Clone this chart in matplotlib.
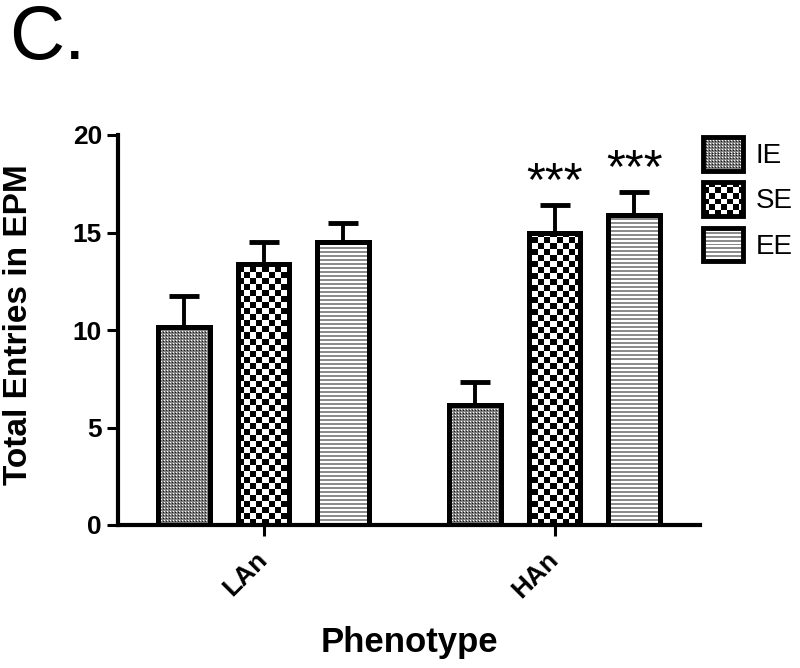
import numpy as np
import matplotlib
matplotlib.use('Agg')
from matplotlib import pyplot as plt
from matplotlib.patches import Rectangle
from matplotlib.image import BboxImage
from matplotlib.transforms import Bbox, TransformedBbox, ScaledTranslation
from matplotlib.colors import Normalize
from matplotlib.legend_handler import HandlerBase

plt.rcParams['font.family'] = ['Liberation Sans', 'DejaVu Sans']

# data
phenotypes = ['LAn', 'HAn']
groups = ['IE', 'SE', 'EE']
means = {
    'IE': [10.15, 6.15],
    'SE': [13.4, 15.0],
    'EE': [14.5, 15.9],
}
sems = {
    'IE': [1.6, 1.2],
    'SE': [1.1, 1.4],
    'EE': [1.0, 1.2],
}
stars = {
    'SE': ['', '***'],
    'EE': ['', '***'],
}
yticks = [0, 5, 10, 15, 20]


# fill patterns (grey scale arrays, 1 px per cell)
def pattern(kind, h, w):
    r = np.arange(h)[:, None]
    c = np.arange(w)[None, :]
    if kind == 'IE':
        cell = np.array([[0.1, 0.5, 0.5],
                         [0.5, 1.0, 0.5],
                         [0.5, 0.5, 0.5]])
        return cell[r % 3, c % 3]
    if kind == 'SE':
        return np.where(((r // 6) + (c // 6)) % 2 == 0, 0.0, 1.0)
    # EE: horizontal stripes
    return np.where(r % 4 < 2, 0.55, 1.0) * np.ones_like(c, dtype=float)


class ImgHandler(HandlerBase):
    def __init__(self, kind):
        super().__init__()
        self.kind = kind

    def create_artists(self, legend, orig_handle, xdescent, ydescent,
                       width, height, fontsize, trans):
        bb = TransformedBbox(Bbox.from_bounds(-xdescent, -ydescent, width, height), trans)
        img = BboxImage(bb, cmap='gray', norm=Normalize(0, 1), interpolation='nearest')
        img.set_data(pattern(self.kind, 35, 40)[::-1])
        rect = Rectangle((-xdescent, -ydescent), width, height, fc='none',
                         ec='black', lw=3.5, transform=trans)
        return [img, rect]


fig = plt.figure(figsize=(8, 6.68), dpi=100)
ax = fig.add_axes([118 / 800, 1 - 525 / 668, 582 / 800, 390 / 668])

x = np.arange(len(phenotypes))
offset = 0.274
width = 0.178
containers = {}
for i, g in enumerate(groups):
    xs = x + (i - 1) * offset
    bars = ax.bar(xs, means[g], width, facecolor='none', edgecolor='black',
                  linewidth=3.6, zorder=3)
    containers[g] = bars
    arr = pattern(g, 390, 582)
    for b in bars:
        im = ax.imshow(arr, cmap='gray', norm=Normalize(0, 1), interpolation='nearest',
                       extent=(-0.5, 1.5, 0, 20), origin='lower', aspect='auto', zorder=2)
        im.set_clip_path(b)
    ax.errorbar(xs, means[g], yerr=[np.zeros(len(xs)), sems[g]], fmt='none',
                ecolor='black', elinewidth=2.8, capsize=10.8, capthick=3.5, zorder=2.5)
    if g in stars:
        for xi, m, s, t in zip(xs, means[g], sems[g], stars[g]):
            if t:
                ax.text(xi, m + s, t, ha='center', va='bottom', fontsize=35)

ax.set_xlim(-0.5, 1.5)
ax.set_ylim(0, 20)

for side in ['top', 'right']:
    ax.spines[side].set_visible(False)
for side in ['left', 'bottom']:
    ax.spines[side].set_linewidth(3)

ax.set_yticks(yticks)
ax.set_xticks(x)
ax.set_xticklabels(phenotypes, rotation=45, ha='right', rotation_mode='anchor')
ax.tick_params(axis='both', length=8, width=2.2, labelsize=19)
ax.tick_params(axis='y', pad=3.5)
ax.tick_params(axis='x', pad=9)
shift = ScaledTranslation(-8 / 100, 1 / 100, fig.dpi_scale_trans)
for lab in ax.get_xticklabels():
    lab.set_fontweight('bold')
    lab.set_transform(lab.get_transform() + shift)
for lab in ax.get_yticklabels():
    lab.set_fontweight('bold')

ax.set_ylabel('Total Entries in EPM', fontsize=24, fontweight='bold')
ax.yaxis.set_label_coords(-0.145, 0.515)
ax.set_xlabel('Phenotype', fontsize=25, fontweight='bold')
ax.xaxis.set_label_coords(0.5, -0.258)

handles = [containers[g] for g in groups]
fig.legend(handles, groups, loc='upper left', bbox_to_anchor=(703 / 800, 1 - 137 / 668),
           frameon=False, fontsize=20, handlelength=1.44, handleheight=1.49,
           labelspacing=0.42, handletextpad=0.45, borderpad=0, borderaxespad=0,
           handler_map={containers[g]: ImgHandler(g) for g in groups})

fig.text(9 / 800, 1 - 59 / 668, 'C.', fontsize=55, va='baseline', ha='left')

fig.savefig('out.png', dpi=100)
